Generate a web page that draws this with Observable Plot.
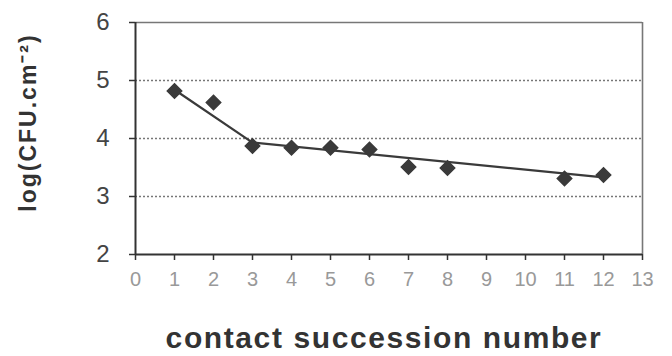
<!DOCTYPE html>
<html><head><meta charset="utf-8">
<script src="https://cdn.jsdelivr.net/npm/d3@7"></script>
<script src="https://cdn.jsdelivr.net/npm/@observablehq/plot@0.6"></script>
<style>body{margin:0;background:#fff} svg{display:block}</style>
</head><body><div id="chart"></div>
<script>
const contacts = [1, 2, 3, 4, 5, 6, 7, 8, 11, 12];
const logCFU = [4.82, 4.62, 3.87, 3.84, 3.84, 3.81, 3.51, 3.49, 3.31, 3.37];
const fitContacts = [1, 3, 12];
const fitLogCFU = [4.84, 3.93, 3.33];
const xTicks = [0, 1, 2, 3, 4, 5, 6, 7, 8, 9, 10, 11, 12, 13];
const yTicks = [2, 3, 4, 5, 6];
const gridValues = [3, 4, 5];
const xTitle = "contact succession number";
const yTitle = "log(CFU.cm⁻²)";

const points = contacts.map((c, i) => ({c, v: logCFU[i]}));
const fit = fitContacts.map((c, i) => ({c, v: fitLogCFU[i]}));

const chart = Plot.plot({
  width: 672, height: 356,
  marginLeft: 135, marginRight: 30, marginTop: 22, marginBottom: 102,
  style: {fontFamily: "'Liberation Sans', Arial, sans-serif", background: "#fff"},
  x: {domain: [0, 13]},
  y: {domain: [2, 6]},
  marks: [
    Plot.ruleY(gridValues, {stroke: "#777", strokeDasharray: "2,2", strokeWidth: 1.3}),
    Plot.ruleY([yTicks[yTicks.length - 1]], {stroke: "#777", strokeWidth: 1.6}),
    Plot.ruleX([xTicks[xTicks.length - 1]], {stroke: "#777", strokeWidth: 1.6}),
    Plot.ruleX([xTicks[0]], {stroke: "#333", strokeWidth: 2}),
    Plot.ruleY([yTicks[0]], {stroke: "#333", strokeWidth: 2}),
    Plot.axisY({ticks: yTicks, tickSize: 6, tickPadding: 20, fontSize: 24, fill: "#444", stroke: "#333", strokeWidth: 1.5, label: null, tickFormat: d => d}),
    Plot.axisX({ticks: xTicks, tickSize: 6, tickPadding: 11, fontSize: 20, fill: "#999", stroke: "#333", strokeWidth: 1.5, label: null, tickFormat: d => d}),
    Plot.line(fit, {x: "c", y: "v", stroke: "#3a3a3a", strokeWidth: 2.2}),
    Plot.dot(points, {x: "c", y: "v", symbol: "diamond2", r: 6.5, fill: "#3a3a3a", stroke: "#3a3a3a"}),
    Plot.text([xTitle], {frameAnchor: "bottom", lineAnchor: "bottom", dy: 93, dx: -5, fontSize: 30, fontWeight: "bold", fill: "#333"}),
    Plot.text([yTitle], {frameAnchor: "left", textAnchor: "middle", rotate: -90, dx: -107, dy: -16, fontSize: 23, fontWeight: "bold", fill: "#333"})
  ]
});
d3.select(chart).selectAll("text").filter(function() { return this.textContent === xTitle; }).style("letter-spacing", "1.6px");
d3.select(chart).selectAll("text").filter(function() { return this.textContent === yTitle; }).style("letter-spacing", "2px");
document.getElementById("chart").append(chart);
</script>
</body></html>
